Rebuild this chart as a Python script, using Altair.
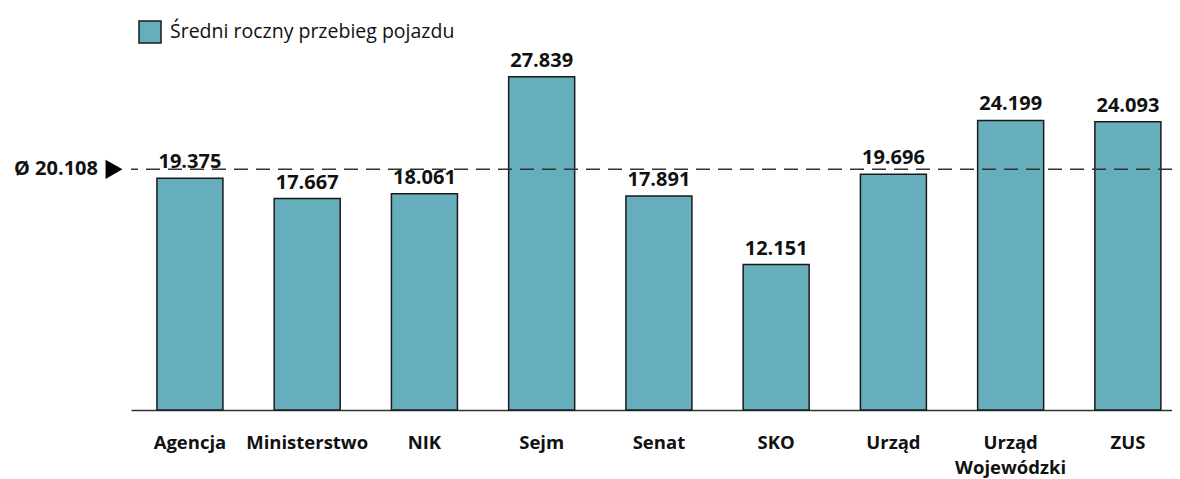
import altair as alt
import pandas as pd

categories = ["Agencja", "Ministerstwo", "NIK", "Sejm", "Senat", "SKO", "Urząd", "Urząd Wojewódzki", "ZUS"]
values = [19.375, 17.667, 18.061, 27.839, 17.891, 12.151, 19.696, 24.199, 24.093]
labels = ["19.375", "17.667", "18.061", "27.839", "17.891", "12.151", "19.696", "24.199", "24.093"]
series_name = "Średni roczny przebieg pojazdu"
average = 20.108
average_label = "Ø 20.108"

TEAL = "#67AEBD"
FONT = "Open Sans"

df = pd.DataFrame({"kategoria": categories, "wartosc": values, "etykieta": labels,
                   "seria": [series_name] * len(categories)})
avg_df = pd.DataFrame({"srednia": [average], "tekst": [average_label]})

x = alt.X("kategoria:N", sort=categories, title=None,
          scale=alt.Scale(paddingInner=0.437, paddingOuter=0.158, align=0.7),
          axis=alt.Axis(labelAngle=0, ticks=False, domainColor="#333333", domainWidth=1.5,
                        labelFont=FONT, labelFontWeight="bold", labelFontSize=18.5,
                        labelColor="#111111", labelPadding=23, labelLineHeight=25,
                        labelExpr="split(datum.label, ' ')"))
y = alt.Y("wartosc:Q", scale=alt.Scale(domain=[0, 30], nice=False), axis=None, title=None)

bars = alt.Chart(df).mark_bar(stroke="#1a1a1a", strokeWidth=1.5).encode(
    x=x, y=y,
    color=alt.Color("seria:N", scale=alt.Scale(range=[TEAL]),
                    legend=alt.Legend(title=None, orient="none", legendX=7, legendY=-31,
                                      symbolType="square", symbolSize=484,
                                      symbolStrokeColor="#1a1a1a", symbolStrokeWidth=1.5,
                                      symbolFillColor=TEAL, labelLimit=0,
                                      labelFont=FONT, labelFontSize=19.5, labelFontWeight=500,
                                      labelColor="#111111", labelOffset=8))
)

texts = alt.Chart(df).mark_text(baseline="bottom", dy=-6, font=FONT, fontWeight="bold",
                                fontSize=20, color="#111111").encode(
    x=alt.X("kategoria:N", sort=categories), y="wartosc:Q", text="etykieta:N")

rule = alt.Chart(avg_df).mark_rule(color="#333333", strokeWidth=1.5, strokeDash=[14, 8]).encode(
    y="srednia:Q")

avg_text = alt.Chart(avg_df).mark_text(align="right", baseline="middle", font=FONT,
                                       fontWeight="bold", fontSize=20, color="#111111").encode(
    x=alt.value(-33), y="srednia:Q", text="tekst:N")

avg_tri = alt.Chart(avg_df).mark_point(shape="triangle-right", filled=True, color="#000000",
                                       size=380, opacity=1).encode(
    x=alt.value(-17), y="srednia:Q")

chart = alt.layer(bars, texts, rule, avg_text, avg_tri).properties(
    width=1041, height=359,
    autosize=alt.AutoSizeParams(type="none"),
    padding={"left": 123, "top": 43, "right": 0, "bottom": 69},
).configure_view(stroke=None)

chart.save("out.html", embed_options={"renderer": "svg", "actions": False})
